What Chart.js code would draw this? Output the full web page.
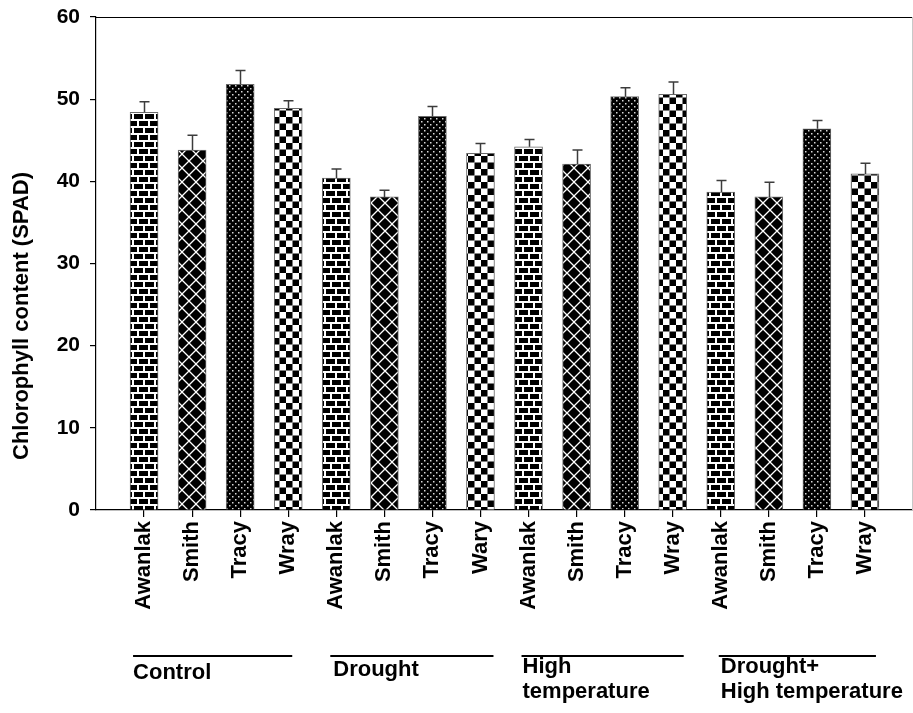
<!DOCTYPE html>
<html><head><meta charset="utf-8">
<script src="https://cdn.jsdelivr.net/npm/chart.js@4"></script>
<style>html,body{margin:0;padding:0;background:#fff}canvas{display:block}</style>
</head><body>
<canvas id="c" width="913" height="713"></canvas>
<script>
// Cultivars in plotting order, four per treatment
const cultivars = ['Awanlak','Smith','Tracy','Wray','Awanlak','Smith','Tracy','Wary','Awanlak','Smith','Tracy','Wray','Awanlak','Smith','Tracy','Wray'];
const treatments = [['Control'],['Drought'],['High','temperature'],['Drought+','High temperature']];
// Chlorophyll content (SPAD) means and standard errors
const spadMean = [48.4,43.8,51.8,48.9, 40.4,38.1,47.9,43.4, 44.2,42.1,50.3,50.6, 38.7,38.1,46.4,40.9];
const spadSE   = [1.3,1.8,1.7,0.9, 1.1,0.8,1.2,1.2, 0.9,1.7,1.1,1.5, 1.4,1.8,1.0,1.3];
const yTicks = [0,10,20,30,40,50,60];

const FONT = '"Liberation Sans", Arial, sans-serif';

// Fill patterns, one per cultivar
function tile(w, h, draw) {
  const cv = document.createElement('canvas');
  cv.width = w; cv.height = h;
  const g = cv.getContext('2d');
  draw(g, w, h);
  return document.getElementById('c').getContext('2d').createPattern(cv, 'repeat');
}
const patterns = [
  // brick
  tile(22, 14, (g) => {
    g.fillStyle = '#000'; g.fillRect(0,0,22,14);
    g.fillStyle = '#fff';
    g.fillRect(0,0,22,2); g.fillRect(0,7,22,2);
    g.fillRect(0,2,2,5); g.fillRect(11,2,2,5);
    g.fillRect(5,9,2,5); g.fillRect(16,9,2,5);
  }),
  // diagonal lattice
  tile(14, 14, (g) => {
    g.fillStyle = '#000'; g.fillRect(0,0,14,14);
    g.strokeStyle = '#fff'; g.lineWidth = 1.3;
    g.beginPath();
    g.moveTo(-1,-1); g.lineTo(15,15);
    g.moveTo(15,-1); g.lineTo(-1,15);
    g.stroke();
  }),
  // dots
  tile(6, 6, (g) => {
    g.fillStyle = '#000'; g.fillRect(0,0,6,6);
    g.fillStyle = '#d8d8d8';
    g.fillRect(1,1,1.5,1.5); g.fillRect(4,4,1.5,1.5);
  }),
  // checkerboard
  tile(13, 13, (g) => {
    g.fillStyle = '#fff'; g.fillRect(0,0,13,13);
    g.fillStyle = '#000'; g.fillRect(0,0,6.5,6.5); g.fillRect(6.5,6.5,6.5,6.5);
  })
];

const labels = ['', ...cultivars, ''];
const barData = [null, ...spadMean, null];
const barFills = [null, ...cultivars.map((_, i) => patterns[i % 4]), null];

// Upper error bars with caps
const errorBars = {
  id: 'errorBars',
  afterDatasetsDraw(chart) {
    const {ctx, scales: {x, y}} = chart;
    ctx.save();
    ctx.strokeStyle = '#3c3c3c'; ctx.lineWidth = 1.5;
    spadMean.forEach((m, i) => {
      const px = Math.round(x.getPixelForValue(i + 1)) + 0.5;
      const y0 = y.getPixelForValue(m);
      const y1 = y.getPixelForValue(m + spadSE[i]);
      ctx.beginPath();
      ctx.moveTo(px, y0); ctx.lineTo(px, y1);
      ctx.moveTo(px - 5, y1); ctx.lineTo(px + 5, y1);
      ctx.stroke();
    });
    ctx.restore();
  }
};

// Frame line, axis title and treatment group labels
const decorations = {
  id: 'decorations',
  afterDraw(chart) {
    const {ctx, chartArea: a, scales: {x}} = chart;
    ctx.save();
    ctx.strokeStyle = '#000'; ctx.lineWidth = 1.2;
    ctx.beginPath(); ctx.moveTo(a.left, a.top + 0.5); ctx.lineTo(a.right, a.top + 0.5); ctx.stroke();
    ctx.strokeStyle = '#c8c8c8'; ctx.lineWidth = 1;
    ctx.beginPath(); ctx.moveTo(a.right - 0.5, a.top); ctx.lineTo(a.right - 0.5, a.bottom); ctx.stroke();

    // y-axis title
    ctx.fillStyle = '#000';
    ctx.font = 'bold 22px ' + FONT;
    ctx.textAlign = 'center'; ctx.textBaseline = 'middle';
    ctx.translate(22, 316); ctx.rotate(-Math.PI / 2);
    ctx.fillText('Chlorophyll content (SPAD)', 0, 0);
    ctx.setTransform(1, 0, 0, 1, 0, 0);

    // treatment groups
    const lineStart = [-11, -6, -7, -2];
    const lineEnd = [4, 13, 11, 11];
    const textStart = [-11, -3, -6, 0];
    const textBase = [679, 676, 673, 673];
    ctx.font = 'bold 22px ' + FONT;
    ctx.textAlign = 'left'; ctx.textBaseline = 'alphabetic';
    treatments.forEach((t, g) => {
      const c1 = x.getPixelForValue(g * 4 + 1);
      const c4 = x.getPixelForValue(g * 4 + 4);
      ctx.strokeStyle = '#000'; ctx.lineWidth = 2;
      ctx.beginPath(); ctx.moveTo(c1 + lineStart[g], 656); ctx.lineTo(c4 + lineEnd[g], 656); ctx.stroke();
      t.forEach((line, k) => ctx.fillText(line, c1 + textStart[g], textBase[g] + k * 25));
    });
    ctx.restore();
  }
};

new Chart(document.getElementById('c'), {
  type: 'bar',
  data: {
    labels,
    datasets: [{
      data: barData,
      backgroundColor: barFills,
      borderColor: '#6a6a6a',
      borderWidth: 1,
      barThickness: 28
    }]
  },
  options: {
    responsive: false,
    devicePixelRatio: 1,
    animation: false,
    layout: {padding: {top: 17, right: 0, left: 0, bottom: 0}},
    plugins: {legend: {display: false}, tooltip: {enabled: false}},
    scales: {
      x: {
        type: 'category',
        offset: false,
        afterFit(s) { s.height = 203; s.paddingLeft = 0; s.paddingRight = 0; },
        grid: {
          offset: false, drawOnChartArea: false, tickLength: 7, lineWidth: 1.2,
          tickColor: (c) => (c.index === 0 || c.index === labels.length - 1) ? 'rgba(0,0,0,0)' : '#000'
        },
        border: {color: '#000', width: 1.2},
        ticks: {
          autoSkip: false, minRotation: 90, maxRotation: 90, padding: 4,
          color: '#000', font: {family: FONT, size: 22, weight: 'bold'}
        }
      },
      y: {
        min: 0, max: 60,
        afterFit(s) { s.width = 96; s.paddingTop = 0; s.paddingBottom = 0; },
        afterBuildTicks(s) { s.ticks = yTicks.map(v => ({value: v})); },
        grid: {drawOnChartArea: false, tickLength: 6, color: '#000', lineWidth: 1.2},
        border: {color: '#000', width: 1.2},
        ticks: {
          padding: 10, color: '#000',
          font: {family: FONT, size: 21, weight: 'bold'}
        }
      }
    }
  },
  plugins: [errorBars, decorations]
});
</script>
</body></html>
